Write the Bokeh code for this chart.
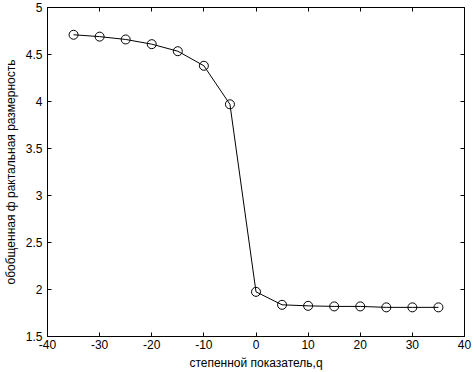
from bokeh.plotting import figure
from bokeh.models import LinearAxis, Range1d, FixedTicker
from bokeh.embed import file_html
from bokeh.resources import INLINE

q = [-35, -30, -25, -20, -15, -10, -5, 0, 5, 10, 15, 20, 25, 30, 35]
D = [4.71, 4.69, 4.66, 4.61, 4.535, 4.38, 3.97, 1.975, 1.837, 1.826, 1.82, 1.82, 1.81, 1.81, 1.81]
x_ticks = [-40, -30, -20, -10, 0, 10, 20, 30, 40]
y_ticks = [1.5, 2, 2.5, 3, 3.5, 4, 4.5, 5]
x_label = "степенной показатель,q"
y_label = "обобщенная ф рактальная размерность"

FONT = "Liberation Sans"

p = figure(width=474, height=372, output_backend="svg", toolbar_location=None,
           x_range=Range1d(-40, 40), y_range=Range1d(1.5, 5),
           min_border_left=44, min_border_right=10, min_border_top=7, min_border_bottom=36,
           x_axis_location=None, y_axis_location=None)
p.styles = {"position": "absolute", "left": "0px", "top": "0px"}
p.grid.visible = False
p.outline_line_color = "black"
p.outline_line_width = 1
p.background_fill_color = "white"
p.border_fill_color = "white"

def style(ax, labels=True):
    ax.axis_line_color = "black"
    ax.major_tick_in = 4
    ax.major_tick_out = 0
    ax.minor_tick_line_color = None
    ax.major_tick_line_color = "black"
    ax.major_label_text_font = FONT
    ax.major_label_text_font_size = "12px"
    ax.major_label_text_color = "black"
    ax.axis_label_text_font = FONT
    ax.axis_label_text_font_size = "12px"
    ax.axis_label_text_font_style = "normal"
    ax.axis_label_text_color = "black"
    if not labels:
        ax.major_label_overrides = {t: "" for t in ax.ticker.ticks}
        ax.major_label_standoff = 0

xb = LinearAxis(ticker=FixedTicker(ticks=x_ticks), axis_label=x_label)
style(xb)
xb.major_label_overrides = {t: str(t) for t in x_ticks}
xb.major_label_standoff = 3
xb.axis_label_standoff = 4
p.add_layout(xb, "below")

yl = LinearAxis(ticker=FixedTicker(ticks=y_ticks), axis_label=y_label)
style(yl)
yl.major_label_standoff = 5
yl.axis_label_standoff = 5
p.add_layout(yl, "left")

xt = LinearAxis(ticker=FixedTicker(ticks=x_ticks))
style(xt, labels=False)
p.add_layout(xt, "above")

yr = LinearAxis(ticker=FixedTicker(ticks=y_ticks))
style(yr, labels=False)
p.add_layout(yr, "right")

p.line(q, D, line_color="black", line_width=1)
p.scatter(q, D, marker="circle", size=9, fill_color=None, line_color="black", line_width=1)

open("out.html", "w").write(file_html(p, INLINE))
